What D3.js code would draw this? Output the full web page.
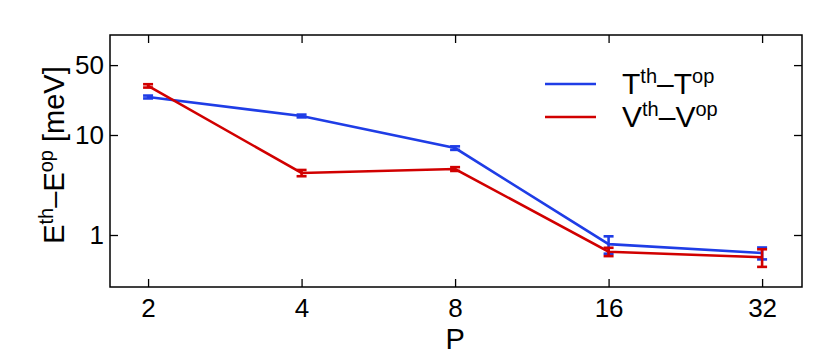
<!DOCTYPE html>
<html>
<head>
<meta charset="utf-8">
<script src="https://cdn.jsdelivr.net/npm/d3@7"></script>
<style>
  body { margin: 0; background: #fff; }
  text { font-family: "Liberation Sans", Arial, sans-serif; fill: #000; }
</style>
</head>
<body>
<svg id="chart" width="830" height="361"></svg>
<script>
// data
const pValues = [2, 4, 8, 16, 32];
const yTicks = [1, 10, 50];
const tDiff = [24, 15.5, 7.4, 0.81, 0.66];
const tErr = [0.8, 0.5, 0.3, 0.16, 0.09];
const vDiff = [31, 4.17, 4.57, 0.68, 0.60];
const vErr = [1.2, 0.3, 0.2, 0.065, 0.12];

const series = [
  { name: 'T', values: tDiff, errors: tErr, color: '#1f3de6' },
  { name: 'V', values: vDiff, errors: vErr, color: '#d10000' }
];

const margin = { top: 35, right: 28, bottom: 74, left: 110 };
const width = 830 - margin.left - margin.right;
const height = 361 - margin.top - margin.bottom;
const TICK = 8;
const LABEL_SIZE = 29;
const SUP_SIZE = 20;
const TICK_SIZE = 26;

const svg = d3.select('#chart');
const g = svg.append('g').attr('transform', `translate(${margin.left},${margin.top})`);

const x = d3.scaleLog().base(2)
  .domain([Math.pow(2, 0.752), Math.pow(2, 5.26)])
  .range([0, width]);
const y = d3.scaleLog()
  .domain([0.302, 100])
  .range([height, 0]);

// frame
g.append('rect')
  .attr('width', width).attr('height', height)
  .attr('fill', 'none').attr('stroke', '#000').attr('stroke-width', 1.5);

// inward ticks on all sides
function styleAxis(sel) {
  sel.select('.domain').remove();
  sel.selectAll('.tick line').attr('stroke', '#000').attr('stroke-width', 1.3);
  sel.selectAll('.tick text').attr('font-size', TICK_SIZE);
}

g.append('g')
  .attr('transform', `translate(0,${height})`)
  .call(d3.axisBottom(x).tickValues(pValues).tickFormat(d3.format('d'))
    .tickSizeInner(-TICK).tickPadding(12))
  .call(styleAxis);
g.append('g')
  .call(d3.axisTop(x).tickValues(pValues).tickFormat('').tickSizeInner(-TICK))
  .call(styleAxis);
g.append('g')
  .call(d3.axisLeft(y).tickValues(yTicks).tickFormat(d3.format('d'))
    .tickSizeInner(-TICK).tickPadding(6))
  .call(styleAxis);
g.append('g')
  .attr('transform', `translate(${width},0)`)
  .call(d3.axisRight(y).tickValues(yTicks).tickFormat('').tickSizeInner(-TICK))
  .call(styleAxis);

// lines and error bars
const line = d3.line()
  .x((d, i) => x(pValues[i]))
  .y(d => y(d));

series.forEach(s => {
  g.append('path')
    .datum(s.values)
    .attr('fill', 'none')
    .attr('stroke', s.color)
    .attr('stroke-width', 2.6)
    .attr('d', line);

  const eb = g.append('g').attr('stroke', s.color).attr('stroke-width', 2.6);
  s.values.forEach((v, i) => {
    const cx = x(pValues[i]);
    const y0 = y(v - s.errors[i]);
    const y1 = y(v + s.errors[i]);
    eb.append('line').attr('x1', cx).attr('x2', cx).attr('y1', y0).attr('y2', y1);
    eb.append('line').attr('x1', cx - 5).attr('x2', cx + 5).attr('y1', y0).attr('y2', y0);
    eb.append('line').attr('x1', cx - 5).attr('x2', cx + 5).attr('y1', y1).attr('y2', y1);
  });
});

// superscript helper: parts alternate normal / superscript
function supText(t, parts) {
  parts.forEach((p, i) => {
    const sup = i % 2 === 1;
    const ts = t.append('tspan').text(p);
    if (sup) ts.attr('dy', -11).attr('font-size', SUP_SIZE);
    else if (i > 0) ts.attr('dy', 11);
  });
}

// legend
const legend = g.append('g').attr('transform', 'translate(435,49)');
series.forEach((s, i) => {
  const row = legend.append('g').attr('transform', `translate(0,${i * 33})`);
  row.append('line')
    .attr('x1', 0).attr('x2', 51)
    .attr('stroke', s.color).attr('stroke-width', 2.6);
  const t = row.append('text')
    .attr('x', 77).attr('y', 10)
    .attr('font-size', LABEL_SIZE + 1);
  supText(t, [s.name, 'th', '\u2013' + s.name, 'op']);
});

// axis titles
g.append('text')
  .attr('x', x(8)).attr('y', height + 62)
  .attr('text-anchor', 'middle')
  .attr('font-size', LABEL_SIZE)
  .text('P');

const yl = g.append('text')
  .attr('transform', `translate(${-46},${120}) rotate(-90)`)
  .attr('text-anchor', 'middle')
  .attr('font-size', LABEL_SIZE);
supText(yl, ['E', 'th', '\u2013E', 'op', ' [meV]']);
</script>
</body>
</html>
